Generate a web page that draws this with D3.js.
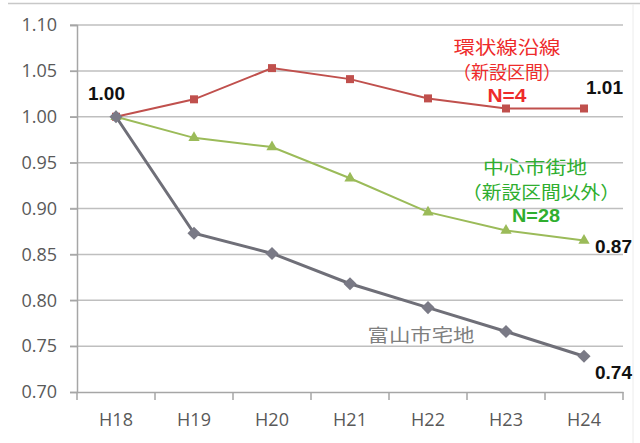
<!DOCTYPE html>
<html><head><meta charset="utf-8">
<script src="https://cdn.jsdelivr.net/npm/d3@7"></script>
<style>body{margin:0;background:#fff}svg{display:block}</style>
</head><body>
<script>
const categories = ["H18","H19","H20","H21","H22","H23","H24"];
const ringRoad = [1.00,1.019,1.053,1.041,1.020,1.009,1.009];
const centralCity = [1.00,0.977,0.967,0.933,0.896,0.876,0.865];
const toyamaCity = [1.00,0.873,0.851,0.818,0.792,0.766,0.739];
const yTicks = [0.70,0.75,0.80,0.85,0.90,0.95,1.00,1.05,1.10];

const W=640,H=443;
const svg=d3.select("body").append("svg").attr("width",W).attr("height",H);
const x=d3.scaleBand().domain(categories).range([77,623]).paddingInner(0).paddingOuter(0);
const y=d3.scaleLinear().domain([0.70,1.10]).range([392,25]);
const cx=c=>x(c)+x.bandwidth()/2;

// frame lines
svg.append("line").attr("x1",8).attr("x2",640).attr("y1",3.5).attr("y2",3.5).attr("stroke","#c8c8c8").attr("stroke-width",1.5);
svg.append("line").attr("x1",633).attr("x2",633).attr("y1",4).attr("y2",443).attr("stroke","#ececec").attr("stroke-width",1);

// gridlines
svg.append("g").selectAll("line").data(yTicks.slice(1)).join("line")
  .attr("x1",70).attr("x2",623).attr("y1",d=>y(d)).attr("y2",d=>y(d))
  .attr("stroke","#bfbfbf").attr("stroke-width",1.5);

// y axis
const ya=svg.append("g").attr("transform","translate(77,0)")
  .call(d3.axisLeft(y).tickValues(yTicks).tickFormat(d3.format(".2f")).tickSize(7).tickPadding(13));
ya.select(".domain").attr("stroke","#a6a6a6").attr("stroke-width",1.5);
ya.selectAll(".tick line").attr("stroke","#a6a6a6").attr("stroke-width",1.5);
ya.selectAll("text").attr("font-family","Open Sans").attr("font-size",18).attr("fill","#595959");

// x axis
const xa=svg.append("g").attr("transform","translate(0,392)")
  .call(d3.axisBottom(x).tickSize(0).tickPadding(21));
xa.select(".domain").attr("stroke","#a6a6a6").attr("stroke-width",1.5);
xa.selectAll("text").attr("font-family","Open Sans").attr("font-size",18).attr("fill","#595959");
const edges=categories.map(c=>x(c)).concat([x(categories[categories.length-1])+x.bandwidth()]);
svg.append("g").selectAll("line").data(edges).join("line")
  .attr("x1",d=>d).attr("x2",d=>d).attr("y1",392).attr("y2",400)
  .attr("stroke","#a6a6a6").attr("stroke-width",1.5);

const line=d3.line().x((d,i)=>cx(categories[i])).y(d=>y(d));

// red series
svg.append("path").datum(ringRoad).attr("d",line).attr("fill","none").attr("stroke","#c0504d").attr("stroke-width",2);
svg.append("g").selectAll("rect").data(ringRoad).join("rect")
  .attr("x",(d,i)=>cx(categories[i])-4).attr("y",d=>y(d)-4).attr("width",8).attr("height",8).attr("fill","#c0504d");

// green series
svg.append("path").datum(centralCity).attr("d",line).attr("fill","none").attr("stroke","#9bbb59").attr("stroke-width",2);
svg.append("g").selectAll("path").data(centralCity).join("path")
  .attr("d",d3.symbol(d3.symbolTriangle,55))
  .attr("transform",(d,i)=>`translate(${cx(categories[i])},${y(d)})`).attr("fill","#9bbb59");

// gray series
svg.append("path").datum(toyamaCity).attr("d",line).attr("fill","none").attr("stroke","#6f6f78").attr("stroke-width",3);
svg.append("g").selectAll("path").data(toyamaCity).join("path")
  .attr("d",d3.symbol(d3.symbolDiamond2,110))
  .attr("transform",(d,i)=>`translate(${cx(categories[i])},${y(d)})`).attr("fill","#7a7a86");

// value labels
const vl=(t,xx,yy)=>svg.append("text").attr("x",xx).attr("y",yy).text(t)
  .attr("font-family","Liberation Sans").attr("font-weight","bold").attr("font-size",19).attr("fill","#111");
const last=categories[categories.length-1];
vl("1.00",cx(categories[0])-28,y(ringRoad[0])-17);
vl("1.01",cx(last)+2,y(ringRoad[6])-14);
vl("0.87",cx(last)+11,y(centralCity[6])+12);
vl("0.74",cx(last)+11,y(toyamaCity[6])+23);

// annotations
const ann=(lines,color)=>{
  lines.forEach(l=>{
    svg.append("text").attr("x",l.cx-l.w/2).attr("y",l.y)
      .attr("textLength",l.w).attr("lengthAdjust","spacingAndGlyphs")
      .attr("font-family",l.bold?"Liberation Sans":"Noto Sans CJK JP")
      .attr("font-weight",l.bold?"bold":"normal")
      .attr("font-size",l.size).attr("fill",color).text(l.t);
  });
};
ann([{t:"環状線沿線",cx:507,w:107,y:54,size:18},{t:"（新設区間）",cx:507,w:108,y:79,size:18},{t:"N=4",cx:507,w:39,y:102,size:19,bold:true}],"#ee2b2b");
ann([{t:"中心市街地",cx:535,w:104,y:174,size:18},{t:"（新設区間以外）",cx:541,w:158,y:199,size:18},{t:"N=28",cx:536,w:48,y:222,size:19,bold:true}],"#2fae2f");
ann([{t:"富山市宅地",cx:421,w:107,y:342,size:18}],"#7f7f7f");
</script>
</body></html>
